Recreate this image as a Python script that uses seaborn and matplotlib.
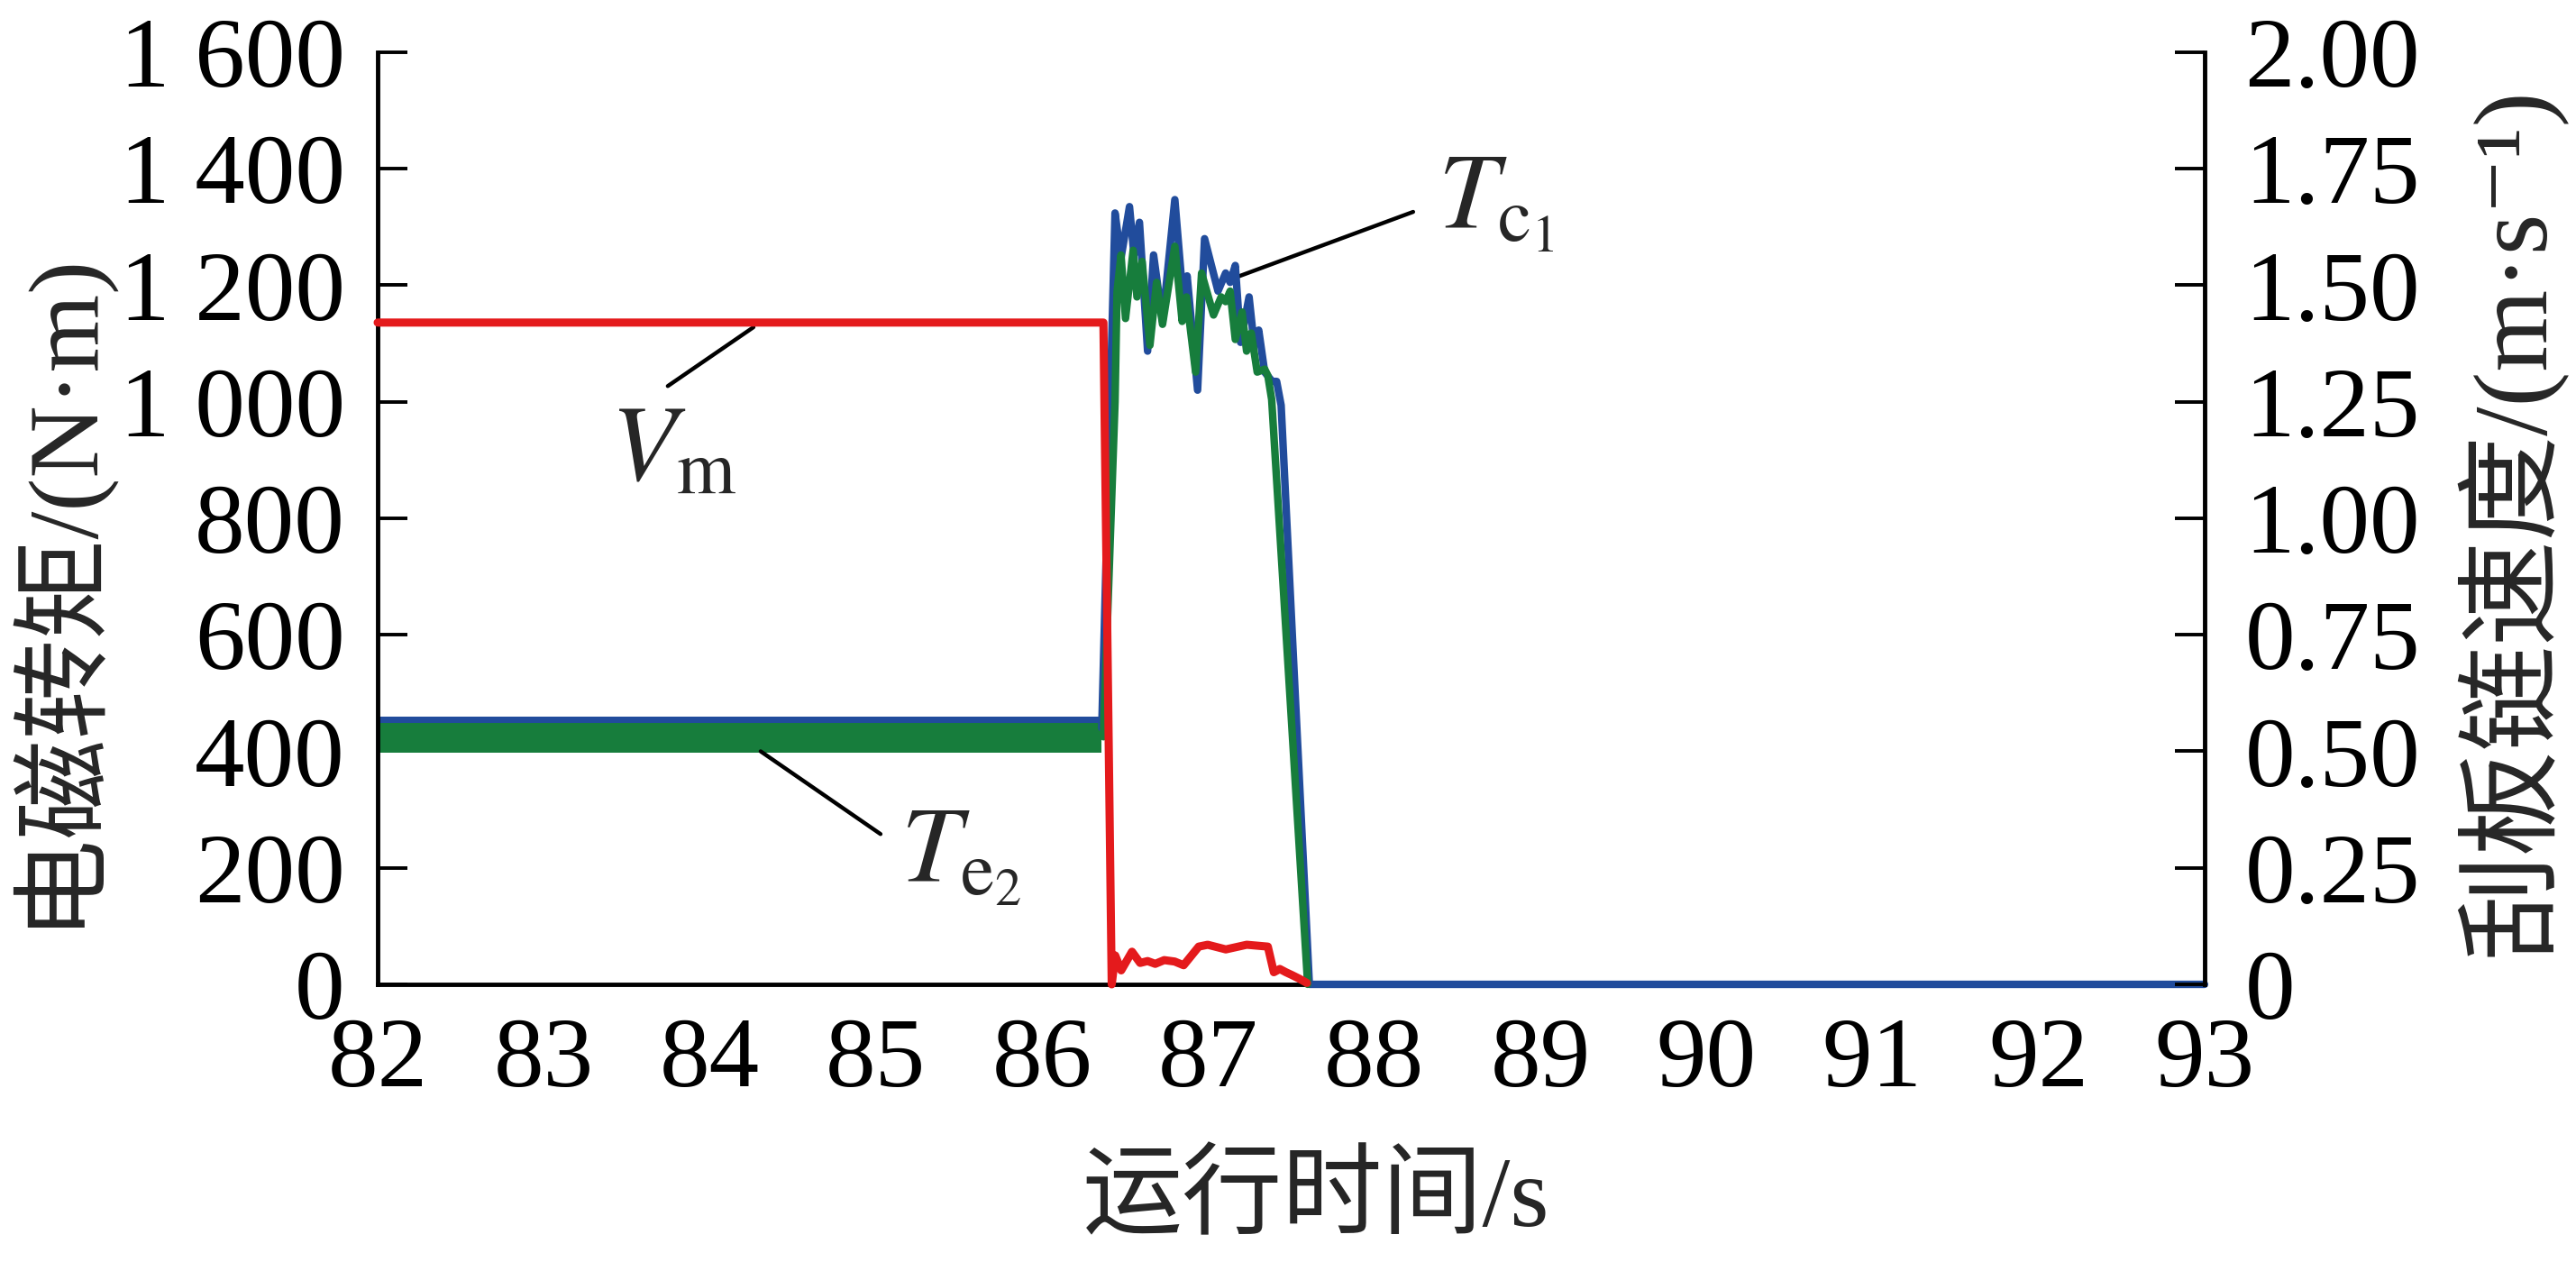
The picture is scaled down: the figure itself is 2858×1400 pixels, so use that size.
import matplotlib
matplotlib.use("Agg")
import matplotlib.pyplot as plt
import seaborn as sns
import numpy as np

# ---------------- data ----------------
x_ticks = [82, 83, 84, 85, 86, 87, 88, 89, 90, 91, 92, 93]
torque_ticks = [0, 200, 400, 600, 800, 1000, 1200, 1400, 1600]
torque_tick_labels = ["0", "200", "400", "600", "800", "1 000", "1 200", "1 400", "1 600"]
speed_ticks = [0, 0.25, 0.5, 0.75, 1.0, 1.25, 1.5, 1.75, 2.0]
speed_tick_labels = ["0", "0.25", "0.50", "0.75", "1.00", "1.25", "1.50", "1.75", "2.00"]

# steady-state noisy bands (time span, low, high)
band_t = [82.0, 86.36]
Tc1_band_low = [405, 405]
Tc1_band_high = [460, 460]
Te2_band_low = [398, 398]
Te2_band_high = [448, 448]

# Tc1 (blue) after the steady phase
Tc1_t = [86.36, 86.44, 86.476, 86.527, 86.554, 86.587, 86.636, 86.672, 86.726, 86.80,
         86.852, 86.874, 86.937, 86.979, 87.06, 87.106, 87.133, 87.164, 87.196, 87.247,
         87.278, 87.305, 87.341, 87.386, 87.413, 87.44, 87.61, 93.0]
Tc1_v = [440, 1324, 1247, 1335, 1252, 1308, 1087, 1252, 1138, 1347,
         1169, 1216, 1020, 1280, 1190, 1221, 1205, 1234, 1102, 1180,
         1097, 1123, 1051, 1035, 1035, 994, 0, 0]

# Te2 (green) after the steady phase
Te2_t = [86.37, 86.44, 86.452, 86.476, 86.503, 86.549, 86.572, 86.603, 86.65, 86.69,
         86.726, 86.80, 86.844, 86.87, 86.925, 86.961, 87.033, 87.079, 87.106, 87.133,
         87.164, 87.205, 87.232, 87.26, 87.296, 87.341, 87.36, 87.383, 87.60]
Te2_v = [425, 1000, 1189, 1252, 1143, 1260, 1180, 1241, 1097, 1205,
         1133, 1267, 1138, 1180, 1051, 1221, 1149, 1180, 1172, 1190,
         1107, 1154, 1087, 1118, 1051, 1056, 1045, 1004, 0]

# Vm (red) scraper chain speed
Vm_t = [82.0, 86.37, 86.42, 86.441, 86.477, 86.542, 86.591, 86.636, 86.682, 86.736,
        86.799, 86.853, 86.944, 86.998, 87.107, 87.233, 87.36, 87.396, 87.432, 87.469,
        87.505, 87.55, 87.595]
Vm_v = [1.42, 1.42, 0.0, 0.062, 0.030, 0.070, 0.046, 0.050, 0.044, 0.052,
        0.049, 0.041, 0.081, 0.085, 0.075, 0.085, 0.081, 0.026, 0.033, 0.026,
        0.020, 0.012, 0.003]

BLUE = "#214C9C"
GREEN = "#177D3C"
RED = "#E41A1C"

# ---------------- style ----------------
sns.set_style("white")
plt.rcParams["font.family"] = ["Liberation Serif", "Noto Sans CJK SC", "DejaVu Serif"]
plt.rcParams["mathtext.fontset"] = "stix"

fig = plt.figure(figsize=(28.58, 14), dpi=100)
ax1 = fig.add_axes([0.1466, 0.22, 0.7092, 0.7386])
ax2 = ax1.twinx()

# bands
ax1.fill_between(band_t, Tc1_band_low, Tc1_band_high, color=BLUE, lw=0)
ax1.fill_between(band_t, Te2_band_low, Te2_band_high, color=GREEN, lw=0)

sns.lineplot(x=Tc1_t, y=Tc1_v, ax=ax1, color=BLUE, estimator=None, sort=False)
sns.lineplot(x=Te2_t, y=Te2_v, ax=ax1, color=GREEN, estimator=None, sort=False)
sns.lineplot(x=Vm_t, y=Vm_v, ax=ax2, color=RED, estimator=None, sort=False)

line_widths = {BLUE: 6.0, GREEN: 6.0, RED: 6.5}
for a in (ax1, ax2):
    for ln in a.get_lines():
        c = matplotlib.colors.to_hex(ln.get_color()).upper()
        for key, w in line_widths.items():
            if key.upper() == c:
                ln.set_linewidth(w)
        ln.set_solid_capstyle("round")
        ln.set_solid_joinstyle("round")
        ln.set_clip_on(False)
        ln.set_zorder(3)

ax1.set_xlim(82, 93)
ax1.set_ylim(0, 1600)
ax2.set_ylim(0, 2.0)

ax1.set_xticks(x_ticks)
ax1.set_xticklabels([str(v) for v in x_ticks])
ax1.set_yticks(torque_ticks)
ax1.set_yticklabels(torque_tick_labels)
ax2.set_yticks(speed_ticks)
ax2.set_yticklabels(speed_tick_labels)

ax1.set_xlabel("")
ax1.set_ylabel("")
ax2.set_ylabel("")

ax1.spines["top"].set_visible(False)
ax1.spines["right"].set_visible(False)
for s in ("left", "bottom"):
    ax1.spines[s].set_linewidth(3.5)
    ax1.spines[s].set_color("black")
for s in ("top", "left", "bottom"):
    ax2.spines[s].set_visible(False)
ax2.spines["right"].set_linewidth(3.5)
ax2.spines["right"].set_color("black")
ax2.spines["right"].set_zorder(1)

ax1.tick_params(axis="y", direction="in", length=24, width=2.8, labelsize=80, pad=26,
                colors="black")
ax1.tick_params(axis="x", direction="in", length=20, width=2.8, labelsize=80, pad=26,
                colors="black")
ax2.tick_params(axis="y", direction="in", length=24, width=2.8, labelsize=80, pad=32,
                colors="black")

# axis labels
fig.text(0.021, 0.535, "电磁转矩/(N·m)", rotation=90, ha="center", va="center", fontsize=80)
fig.text(0.9745, 0.587, "刮板链速度/(m·s⁻¹)", rotation=90, ha="center", va="center", fontsize=84)
fig.text(0.5109, 0.049, "运行时间/s", ha="center", va="center", fontsize=80)

# annotations
ax1.plot([83.747, 84.263], [1027, 1128], color="black", lw=3.2)
ax1.text(83.40, 865, r"$V_{\mathrm{m}}$", fontsize=86, ha="left", va="baseline")

ax1.plot([84.306, 85.028], [400, 258], color="black", lw=3.2)
ax1.text(85.15, 176, r"$T_{\mathrm{e}_2}$", fontsize=86, ha="left", va="baseline")

ax1.plot([87.172, 88.235], [1214, 1326], color="black", lw=3.2)
ax1.text(88.38, 1298, r"$T_{\mathrm{c}_1}$", fontsize=86, ha="left", va="baseline")

fig.savefig("out.png", dpi=100)
